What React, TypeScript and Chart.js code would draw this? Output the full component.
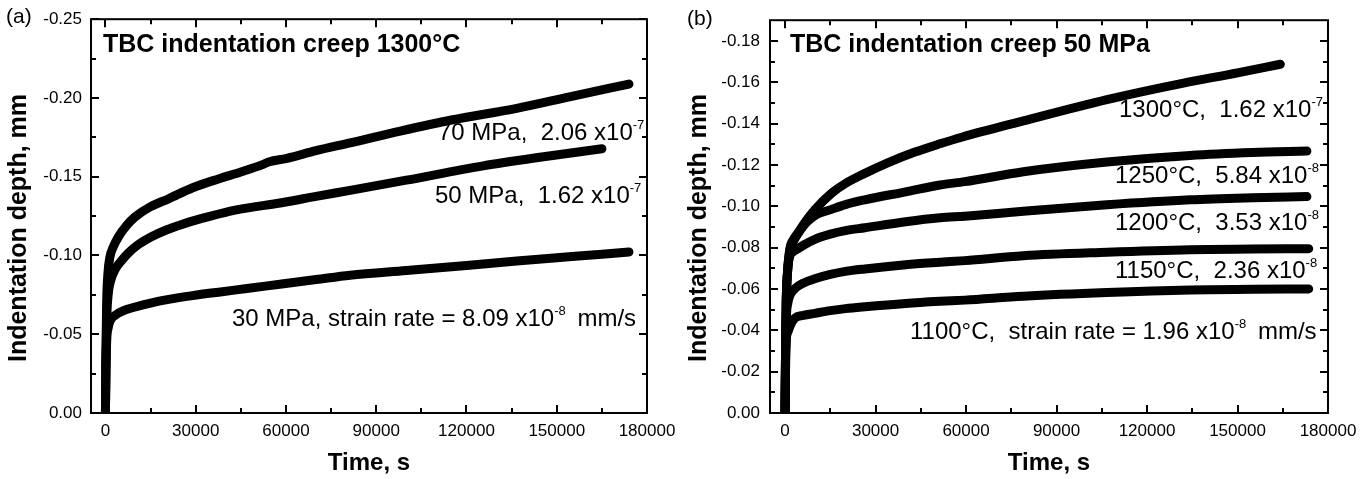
import React, { useEffect, useRef } from "react";
import { Chart, registerables } from "chart.js";

Chart.register(...registerables);

const FONT = '"Liberation Sans", Arial, Helvetica, sans-serif';

// ---------- Panel (a): 1300°C, three stresses ----------
const timeA70 = [0, 150, 400, 800, 1500, 2500, 4350, 7000, 9900, 15000, 21000, 29000, 37570, 45000, 52000, 54500, 60000, 70000, 81300, 98000, 115000, 136700, 155000, 174000];
const depthA70 = [0, -0.035, -0.07, -0.088, -0.099, -0.105, -0.112, -0.119, -0.1246, -0.131, -0.136, -0.143, -0.1486, -0.153, -0.1575, -0.1595, -0.1615, -0.1665, -0.1715, -0.179, -0.186, -0.1934, -0.201, -0.2088];

const timeA50 = [0, 150, 400, 900, 1600, 3260, 5500, 7700, 11000, 15450, 20000, 26500, 34000, 43100, 58600, 70000, 81300, 100000, 125600, 145000, 165000];
const depthA50 = [0, -0.03, -0.058, -0.075, -0.083, -0.0913, -0.097, -0.1017, -0.107, -0.112, -0.116, -0.1204, -0.1245, -0.1288, -0.1335, -0.1375, -0.1413, -0.1478, -0.1569, -0.1625, -0.1678];

const timeA30 = [0, 150, 400, 900, 1700, 3260, 6000, 9900, 15000, 21000, 29000, 37570, 47000, 58600, 70000, 81300, 100000, 120000, 136700, 155000, 174000];
const depthA30 = [0, -0.025, -0.045, -0.054, -0.059, -0.0621, -0.065, -0.0673, -0.0698, -0.0721, -0.0745, -0.0767, -0.079, -0.0819, -0.0847, -0.0875, -0.0905, -0.0937, -0.0965, -0.0993, -0.1022];

// ---------- Panel (b): 50 MPa, five temperatures ----------
const timeB1300 = [0, 150, 400, 800, 1560, 2800, 4300, 7000, 9860, 15400, 20000, 26450, 34000, 43050, 51350, 58550, 79000, 106700, 132100, 150000, 164200];
const depthB1300 = [0, -0.03, -0.055, -0.068, -0.0792, -0.084, -0.0872, -0.093, -0.0983, -0.1063, -0.111, -0.1159, -0.121, -0.1262, -0.1302, -0.1334, -0.1413, -0.1516, -0.1596, -0.1645, -0.1687];

const timeB1250 = [0, 150, 400, 800, 1560, 2800, 4300, 7000, 9860, 15400, 20000, 26450, 40000, 51350, 59600, 79000, 106700, 134300, 155000, 173000];
const depthB1250 = [0, -0.03, -0.055, -0.068, -0.0785, -0.083, -0.0868, -0.092, -0.0955, -0.0985, -0.1008, -0.1031, -0.107, -0.1103, -0.1119, -0.1167, -0.1214, -0.1246, -0.126, -0.1267];

const timeB1200 = [0, 150, 400, 800, 1500, 2500, 4300, 6500, 9860, 15000, 20000, 26450, 40000, 51350, 59600, 79000, 106700, 134300, 155000, 173000];
const depthB1200 = [0, -0.03, -0.055, -0.068, -0.0755, -0.0778, -0.0795, -0.0815, -0.084, -0.0865, -0.0882, -0.0896, -0.0925, -0.0944, -0.0952, -0.0976, -0.1007, -0.1031, -0.1041, -0.1047];

const timeB1150 = [0, 150, 400, 900, 1800, 3200, 6000, 9860, 15000, 20000, 26450, 40000, 51350, 59600, 79000, 106700, 134300, 155000, 173600];
const depthB1150 = [0, -0.025, -0.045, -0.053, -0.0575, -0.0601, -0.0628, -0.0649, -0.067, -0.0685, -0.0697, -0.0717, -0.0729, -0.0737, -0.0761, -0.0778, -0.079, -0.0793, -0.0795];

const timeB1100 = [0, 150, 400, 900, 1800, 3200, 6000, 9860, 15000, 20000, 26450, 40000, 51350, 59600, 79000, 106700, 134300, 155000, 173600];
const depthB1100 = [0, -0.02, -0.035, -0.039, -0.0425, -0.0458, -0.0472, -0.0482, -0.0495, -0.0505, -0.0514, -0.053, -0.054, -0.0546, -0.0565, -0.0583, -0.0595, -0.0598, -0.06];

// ---------- Axes ----------
const xTickValues = [0, 30000, 60000, 90000, 120000, 150000, 180000];
const yTickValuesA = [-0.25, -0.2, -0.15, -0.1, -0.05, 0];
const yTickValuesB = [-0.18, -0.16, -0.14, -0.12, -0.1, -0.08, -0.06, -0.04, -0.02, 0];
const xAxisTitle = "Time, s";
const yAxisTitle = "Indentation depth, mm";

// ---------- Texts ----------
const titleA = "TBC indentation creep 1300°C";
const titleB = "TBC indentation creep 50 MPa";
const tagA = "(a)";
const tagB = "(b)";
const noteMainA = ["70 MPa,  2.06 x10", "50 MPa,  1.62 x10", "30 MPa, strain rate = 8.09 x10"];
const noteSupA = ["-7", "-7", "-8"];
const noteTailA = ["", "", " mm/s"];
const noteMainB = ["1300°C,  1.62 x10", "1250°C,  5.84 x10", "1200°C,  3.53 x10", "1150°C,  2.36 x10", "1100°C,  strain rate = 1.96 x10"];
const noteSupB = ["-7", "-8", "-8", "-8", "-8"];
const noteTailB = ["", "", "", "", " mm/s"];

type Panel = {
  series: { name: string; t: number[]; v: number[] }[];
  yTicks: number[];
  xMin: number;
  yMin: number;
  title: string;
  tag: string;
  noteMain: string[];
  noteSup: string[];
  noteTail: string[];
  canvasLeft: number;
  width: number;
  axisWidth: number;
  padRight: number;
  notePos: number[][];
  titlePos: number[];
  tagPos: number[];
  yTitlePos: number[];
  yTickPad: number;
};

const panels: Panel[] = [
  {
    series: [
      { name: "70 MPa", t: timeA70, v: depthA70 },
      { name: "50 MPa", t: timeA50, v: depthA50 },
      { name: "30 MPa", t: timeA30, v: depthA30 },
    ],
    yTicks: yTickValuesA,
    xMin: -4800,
    yMin: -0.25,
    title: titleA,
    tag: tagA,
    noteMain: noteMainA,
    noteSup: noteSupA,
    noteTail: noteTailA,
    canvasLeft: 0,
    width: 684,
    axisWidth: 91,
    padRight: 37,
    notePos: [[438, 140], [435, 203], [232, 326]],
    titlePos: [103, 52],
    tagPos: [6, 23],
    yTitlePos: [26, 228],
    yTickPad: 9,
  },
  {
    series: [
      { name: "1300°C", t: timeB1300, v: depthB1300 },
      { name: "1250°C", t: timeB1250, v: depthB1250 },
      { name: "1200°C", t: timeB1200, v: depthB1200 },
      { name: "1150°C", t: timeB1150, v: depthB1150 },
      { name: "1100°C", t: timeB1100, v: depthB1100 },
    ],
    yTicks: yTickValuesB,
    xMin: -5000,
    yMin: -0.19,
    title: titleB,
    tag: tagB,
    noteMain: noteMainB,
    noteSup: noteSupB,
    noteTail: noteTailB,
    canvasLeft: 684,
    width: 685,
    axisWidth: 86,
    padRight: 41,
    notePos: [[435, 117], [431, 183], [431, 230], [431, 278], [226, 339]],
    titlePos: [106, 52],
    tagPos: [3, 25],
    yTitlePos: [22, 228],
    yTickPad: 10,
  },
];

const H = 479;

const decorPlugin = {
  id: "panelDecor",
  afterDatasetsDraw(chart: any, _args: any, opts: any) {
    const p: Panel = opts.panel;
    const ctx = chart.ctx;
    const { left, right, top, bottom } = chart.chartArea;
    const xs = chart.scales.x;
    const ys = chart.scales.y;
    ctx.save();
    ctx.strokeStyle = "#000";
    ctx.fillStyle = "#000";
    ctx.lineWidth = 2;
    ctx.strokeRect(left, top, right - left, bottom - top);

    const major = 8;
    const minor = 5;
    const xMaj = xTickValues;
    const xMin: number[] = [];
    for (let i = 0; i < xMaj.length - 1; i++) xMin.push((xMaj[i] + xMaj[i + 1]) / 2);
    const yMaj = p.yTicks;
    const yMinr: number[] = [];
    for (let i = 0; i < yMaj.length - 1; i++) yMinr.push((yMaj[i] + yMaj[i + 1]) / 2);

    ctx.beginPath();
    const xTick = (v: number, len: number) => {
      const px = Math.round(xs.getPixelForValue(v));
      ctx.moveTo(px, bottom);
      ctx.lineTo(px, bottom - len);
      ctx.moveTo(px, top);
      ctx.lineTo(px, top + len);
    };
    const yTick = (v: number, len: number) => {
      const py = Math.round(ys.getPixelForValue(v));
      ctx.moveTo(left, py);
      ctx.lineTo(left + len, py);
      ctx.moveTo(right, py);
      ctx.lineTo(right - len, py);
    };
    xMaj.forEach((v) => xTick(v, major));
    xMin.forEach((v) => xTick(v, minor));
    yMaj.forEach((v) => yTick(v, major));
    yMinr.forEach((v) => yTick(v, minor));
    ctx.stroke();

    // panel title
    ctx.textAlign = "left";
    ctx.textBaseline = "alphabetic";
    ctx.font = `bold 25px ${FONT}`;
    ctx.fillText(p.title, p.titlePos[0], p.titlePos[1]);

    // tag
    ctx.font = `21px ${FONT}`;
    ctx.fillText(p.tag, p.tagPos[0], p.tagPos[1]);

    // notes with superscripts
    const size = 24;
    const supSize = 13;
    p.noteMain.forEach((txt, i) => {
      let cx = p.notePos[i][0];
      const by = p.notePos[i][1];
      ctx.font = `${size}px ${FONT}`;
      ctx.fillText(txt, cx, by);
      cx += ctx.measureText(txt).width;
      ctx.font = `${supSize}px ${FONT}`;
      ctx.fillText(p.noteSup[i], cx, by - 11);
      cx += ctx.measureText(p.noteSup[i]).width;
      if (p.noteTail[i]) {
        ctx.font = `${size}px ${FONT}`;
        ctx.fillText(p.noteTail[i], cx + 5, by);
      }
    });

    // y axis title
    ctx.save();
    ctx.translate(p.yTitlePos[0], p.yTitlePos[1]);
    ctx.rotate(-Math.PI / 2);
    ctx.textAlign = "center";
    ctx.font = `bold 25px ${FONT}`;
    ctx.fillText(yAxisTitle, 0, 0);
    ctx.restore();

    ctx.restore();
  },
};

function makeChart(canvas: HTMLCanvasElement, p: Panel) {
  const datasets = p.series.map((s) => ({
    label: s.name,
    data: s.t.map((t, i) => ({ x: t, y: s.v[i] })),
    borderColor: "#000",
    backgroundColor: "#000",
    borderWidth: 9,
    pointRadius: 0,
    pointHoverRadius: 0,
    cubicInterpolationMode: "monotone" as const,
    borderCapStyle: "round" as const,
    borderJoinStyle: "round" as const,
    fill: false,
  }));
  return new Chart(canvas, {
    type: "line",
    data: { datasets },
    options: {
      animation: false,
      responsive: false,
      devicePixelRatio: 1,
      events: [],
      layout: { padding: { top: 14, right: p.padRight, bottom: 0, left: 0 } },
      plugins: {
        legend: { display: false },
        tooltip: { enabled: false },
        // @ts-ignore
        panelDecor: { panel: p },
      },
      scales: {
        x: {
          type: "linear",
          min: p.xMin,
          max: 180000,
          afterBuildTicks: (s: any) => {
            s.ticks = xTickValues.map((v) => ({ value: v }));
          },
          afterFit: (s: any) => {
            s.height = 66;
          },
          grid: { display: false, drawTicks: false },
          border: { display: false },
          ticks: {
            color: "#000",
            font: { family: FONT, size: 17 },
            padding: 8,
            maxRotation: 0,
            autoSkip: false,
            callback: (v: any) => String(v),
          },
          title: {
            display: true,
            text: xAxisTitle,
            color: "#000",
            font: { family: FONT, size: 24, weight: "bold" },
            padding: { top: 0, bottom: 1 },
          },
        },
        y: {
          type: "linear",
          min: p.yMin,
          max: 0,
          reverse: true,
          afterBuildTicks: (s: any) => {
            s.ticks = p.yTicks.map((v) => ({ value: v }));
          },
          afterFit: (s: any) => {
            s.width = p.axisWidth;
          },
          grid: { display: false, drawTicks: false },
          border: { display: false },
          ticks: {
            color: "#000",
            font: { family: FONT, size: 17 },
            padding: p.yTickPad,
            autoSkip: false,
            callback: (v: any) => Number(v).toFixed(2),
          },
        },
      },
    },
    plugins: [decorPlugin],
  } as any);
}

function PanelChart({ p }: { p: Panel }) {
  const ref = useRef<HTMLCanvasElement | null>(null);
  useEffect(() => {
    if (!ref.current) return;
    const c = makeChart(ref.current, p);
    return () => c.destroy();
  }, [p]);
  return (
    <canvas
      ref={ref}
      width={p.width}
      height={H}
      style={{ position: "absolute", left: p.canvasLeft, top: 0, width: p.width, height: H }}
    />
  );
}

export default function App() {
  return (
    <div style={{ position: "absolute", left: 0, top: 0, width: 1369, height: H, background: "#fff", overflow: "hidden" }}>
      {panels.map((p, i) => (
        <PanelChart key={i} p={p} />
      ))}
    </div>
  );
}
